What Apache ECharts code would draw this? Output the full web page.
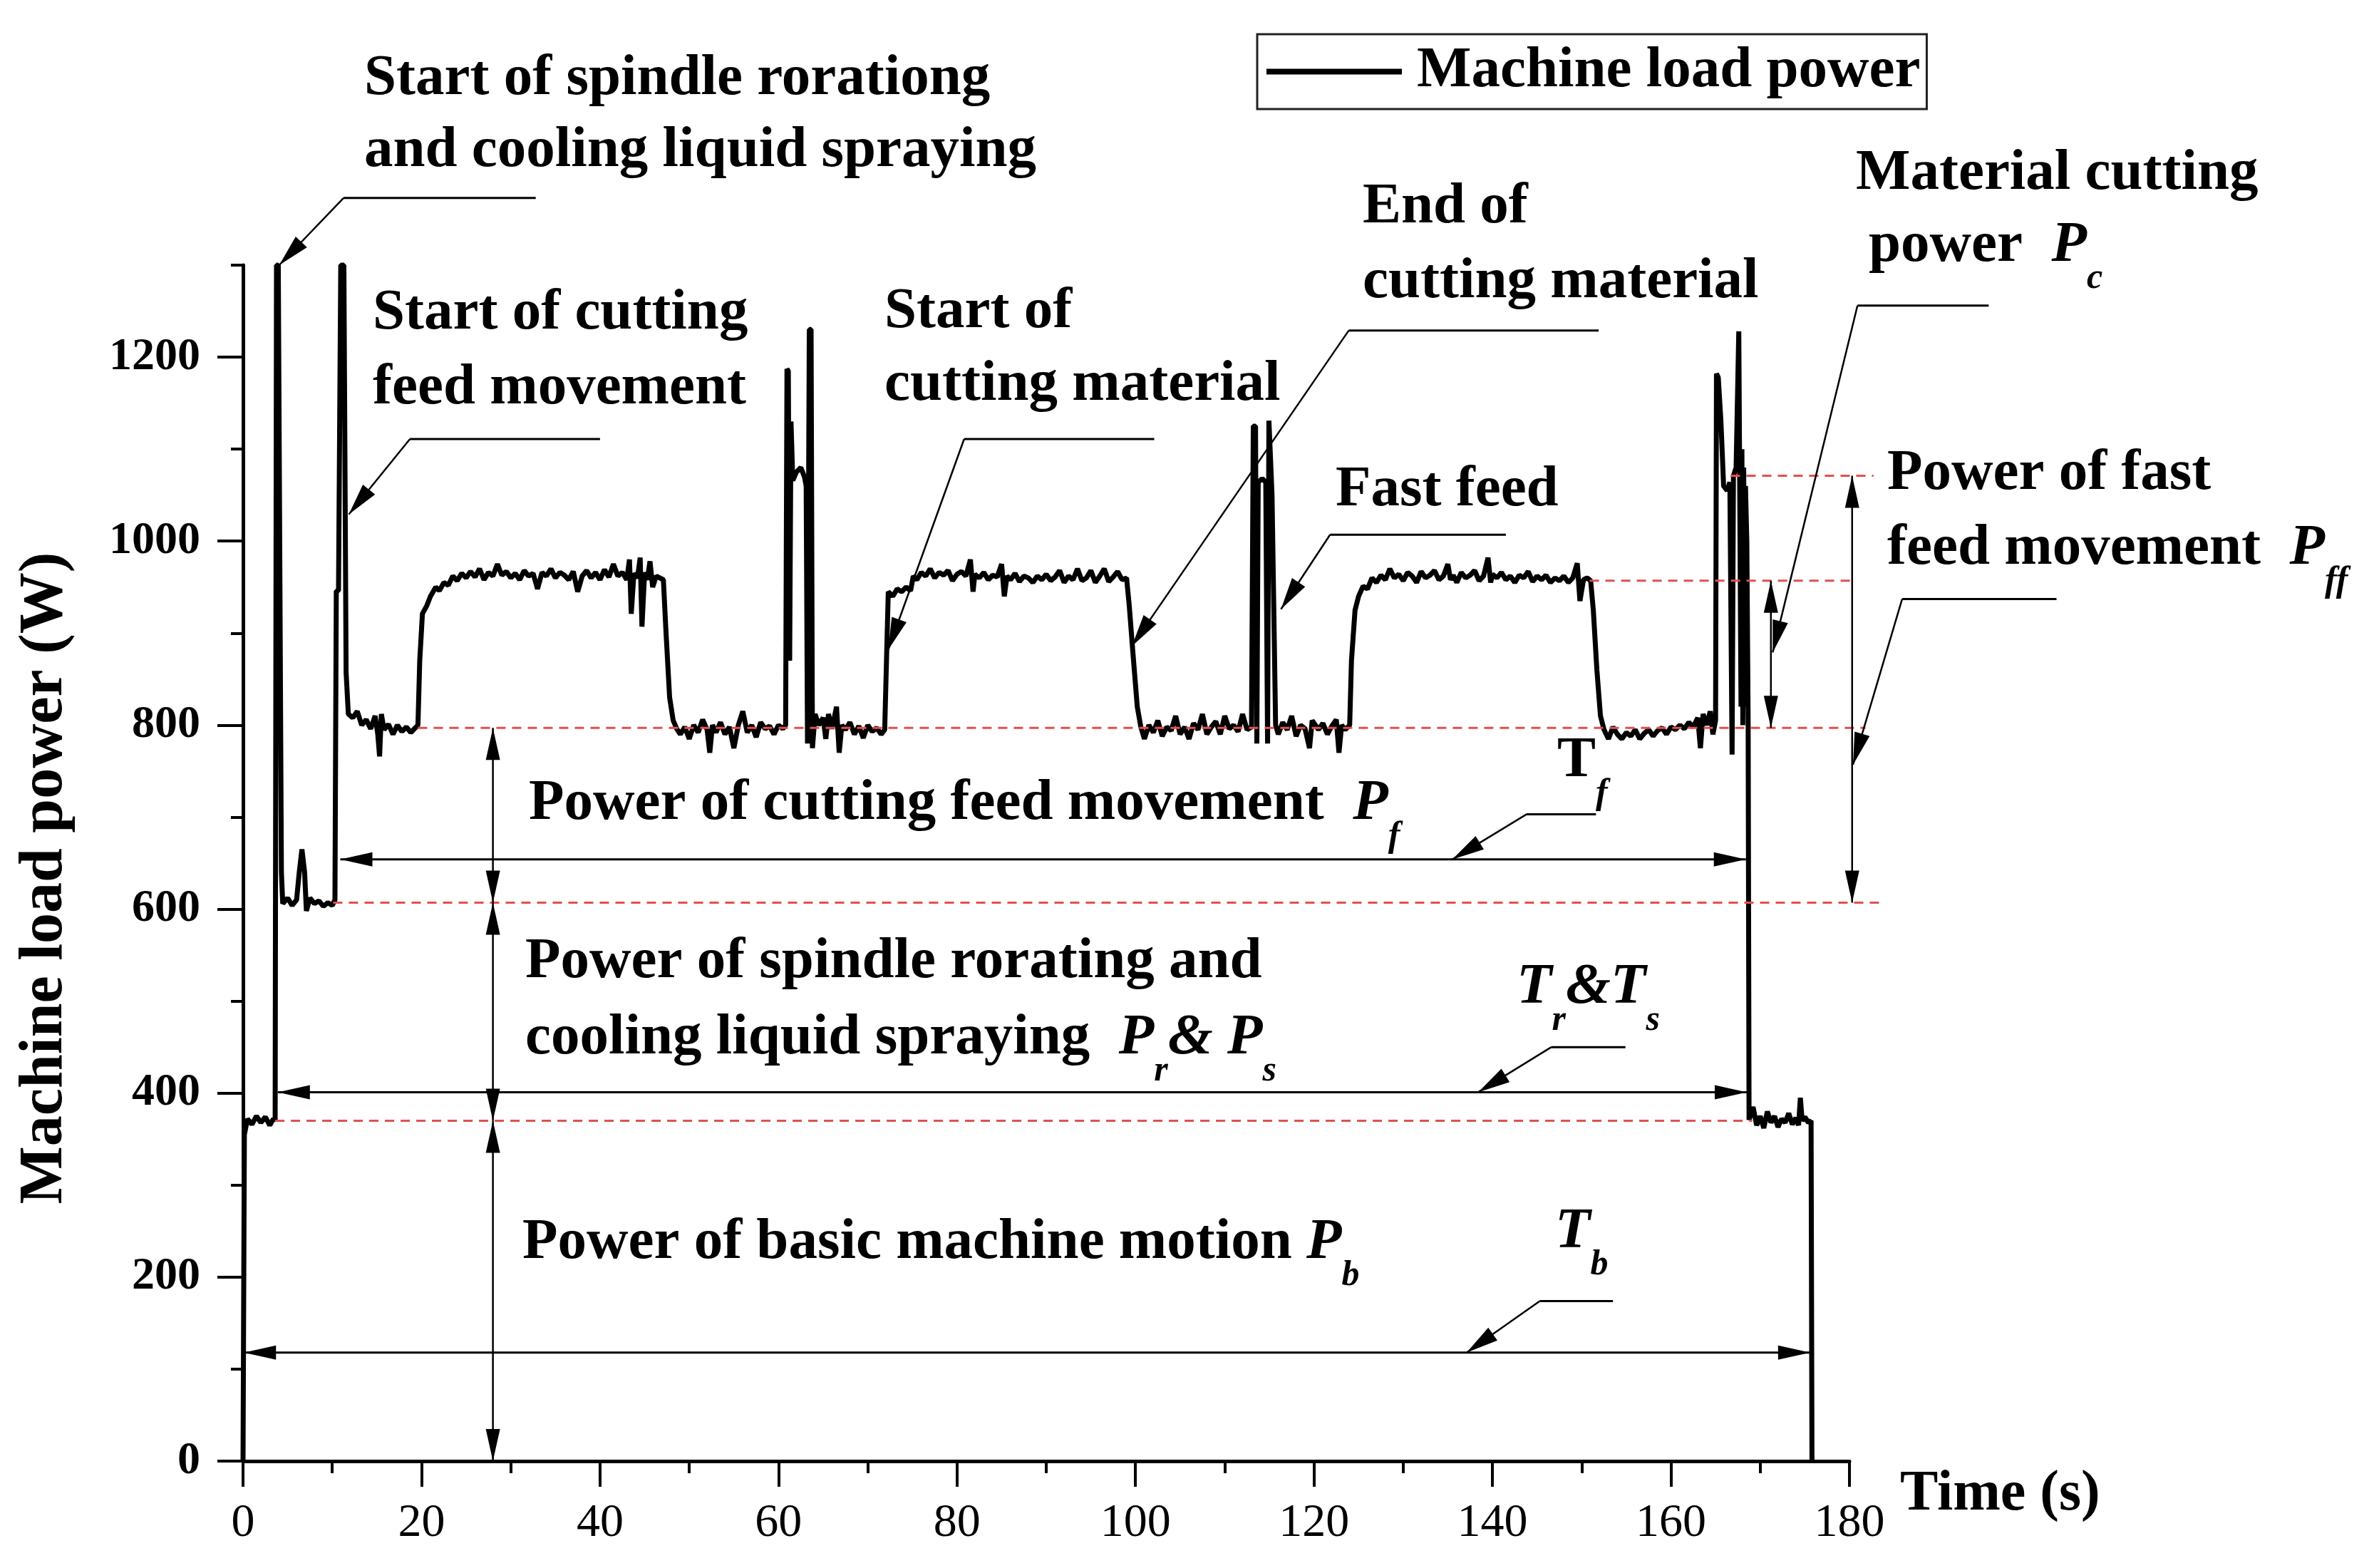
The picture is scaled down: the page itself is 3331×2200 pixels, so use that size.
<!DOCTYPE html>
<html>
<head>
<meta charset="utf-8">
<script src="https://cdn.jsdelivr.net/npm/echarts@6/dist/echarts.min.js"></script>
<style>html,body{margin:0;padding:0;background:#fff;}#c{width:3331px;height:2200px;}</style>
</head>
<body>
<div id="c"></div>
<script>
// ---------- DATA ----------
const seriesName = 'Machine load power';
const xTickValues = [0, 20, 40, 60, 80, 100, 120, 140, 160, 180];
const yTickValues = [0, 200, 400, 600, 800, 1000, 1200];
const yMinorTickValues = [100, 300, 500, 700, 900, 1100, 1300];

// [time (s), power (W)]
const idleStart = [[0,0],[0.15,355],[0.5,372],[1,366],[1.5,375],[2,368],[2.5,374],[3,365],[3.4,372],[3.6,370]];
const spindleStart = [[3.75,1300],[3.95,1300],[4.3,640],[4.45,606],[5,612],[5.5,604],[6,610],[6.3,640],[6.6,665],[6.9,640],[7.1,598],[7.5,612],[8,606],[8.5,609],[9,603],[9.5,607],[10,604],[10.3,610]];
const feedStart = [[10.45,946],[10.7,946],[10.95,1300],[11.3,1300],[11.55,857],[11.8,812],[12.3,808],[12.8,815],[13.3,800],[13.8,806],[14.3,796],[14.8,810],[15.1,790],[15.3,766],[15.5,812],[15.8,795],[16.3,801],[16.8,790],[17.3,800],[17.8,793],[18.3,798],[18.8,792],[19.3,797],[19.6,800]];
const cut1 = [[19.8,870],[20.1,921],[20.6,930],[21,940],[21.6,950],[22,946],[22.5,955],[23,952],[23.5,962],[24,957],[24.5,965],[25,960],[25.5,967],[26,961],[26.5,970],[27,958],[27.5,966],[28,962],[28.5,975],[29,963],[29.5,967],[30,960],[30.5,965],[31,958],[31.5,968],[32,962],[32.5,965],[33,948],[33.5,966],[34,962],[34.5,970],[35,960],[35.5,966],[36,963],[36.5,958],[37,967],[37.5,945],[38,962],[38.5,968],[39,960],[39.5,966],[40,958],[40.5,969],[41,961],[41.5,975],[42,962],[42.5,966],[43,958],[43.3,980],[43.5,921],[43.8,965],[44.2,960],[44.5,982],[44.7,907],[45,966],[45.3,958],[45.6,978],[45.9,950],[46.3,962],[46.7,960],[47.1,958]];
const feed1 = [[47.4,900],[47.8,830],[48.2,805],[48.6,796],[49,790],[49.5,798],[50,785],[50.5,800],[51,792],[51.5,806],[52,795],[52.3,770],[52.6,800],[53,792],[53.5,803],[54,790],[54.5,798],[55,775],[55.5,800],[56,815],[56.5,792],[57,800],[57.5,787],[58,803],[58.5,796],[59,799],[59.5,790],[60,800],[60.5,796],[60.8,800]];
const fast1 = [[60.95,1187],[61.1,1185],[61.25,870],[61.4,1130],[61.6,1066],[62,1075],[62.5,1080],[62.9,1070],[63.1,1060],[63.25,780],[63.45,1230],[63.65,1230],[63.8,775],[64.1,812],[64.5,800],[65,808],[65.3,785],[65.6,812],[66,796],[66.5,820],[66.8,770],[67.1,800],[67.5,795],[68,803],[68.5,790],[69,799],[69.5,786],[70,800],[70.5,793],[71,797],[71.5,790],[71.9,795]];
const cut2 = [[72.1,870],[72.3,945],[72.8,940],[73.3,948],[73.8,945],[74.3,950],[74.8,946],[75.1,962],[75.5,958],[76,966],[76.5,962],[77,970],[77.5,960],[78,966],[78.5,963],[79,968],[79.5,957],[80,964],[80.5,967],[81,962],[81.5,980],[81.8,945],[82,964],[82.5,960],[83,966],[83.5,958],[84,963],[84.5,961],[85,975],[85.3,940],[85.6,962],[86,958],[86.5,965],[87,956],[87.5,962],[88,960],[88.5,955],[89,962],[89.5,958],[90,964],[90.5,957],[91,961],[91.5,968],[92,955],[92.5,962],[93,958],[93.5,970],[94,957],[94.5,960],[95,968],[95.5,955],[96,962],[96.5,970],[97,956],[97.5,961],[98,967],[98.5,958],[99,960]];
const feed2 = [[99.3,930],[99.7,880],[100.2,820],[100.6,798],[101,785],[101.5,800],[102,792],[102.5,805],[103,788],[103.5,798],[104,794],[104.5,810],[105,790],[105.5,798],[106,785],[106.5,802],[107,795],[107.5,812],[108,790],[108.5,798],[109,804],[109.5,790],[110,810],[110.5,796],[111,800],[111.5,793],[112,812],[112.5,795],[113,798]];
const fast2 = [[113.2,1125],[113.45,1125],[113.6,780],[113.75,1064],[114.2,1068],[114.6,1064],[114.8,780],[114.95,1131],[115.1,1131],[115.3,1050],[115.5,925],[115.7,800],[116,790],[116.5,803],[117,795],[117.5,810],[118,788],[118.5,800],[119,796],[119.5,775],[119.8,805],[120.5,795],[121,802],[121.5,790],[122,799],[122.5,806],[122.8,770],[123.1,800],[123.5,795],[124,800]];
const cut3 = [[124.2,870],[124.6,925],[125,940],[125.5,951],[126,948],[126.5,960],[127,955],[127.5,963],[128,958],[128.5,970],[129,960],[129.5,964],[130,957],[130.5,966],[131,962],[131.5,955],[132,967],[132.5,960],[133,963],[133.5,968],[134,958],[134.5,962],[135,975],[135.3,958],[135.6,963],[136,955],[136.5,966],[137,960],[137.5,963],[138,968],[138.5,957],[139,962],[139.5,982],[139.8,955],[140,964],[140.5,960],[141,966],[141.5,958],[142,962],[142.5,955],[143,963],[143.5,960],[144,967],[144.5,956],[145,962],[145.5,958],[146,963],[146.5,955],[147,960],[147.5,957],[148,962],[148.5,955],[149,960],[149.5,976],[149.8,935],[150.2,958],[150.6,960],[151,957]];
const feed3 = [[151.3,925],[151.7,860],[152.1,810],[152.5,795],[153,785],[153.5,798],[154,790],[154.5,785],[155,792],[155.5,788],[156,795],[156.5,785],[157,791],[157.5,795],[158,788],[158.5,794],[159,797],[159.5,790],[160,798],[160.5,795],[161,800],[161.5,796],[162,803],[162.5,798],[163,808],[163.3,775],[163.6,812],[164,800],[164.4,815],[164.7,790],[165,805]];
const fast3 = [[165.1,1182],[165.3,1178],[165.6,1130],[165.9,1060],[166.3,1055],[166.6,1064],[166.85,768],[167,1071],[167.3,1080],[167.6,1228],[167.75,1228],[167.85,820],[167.95,1100],[168.05,800],[168.15,1080],[168.25,820],[168.35,1060],[168.5,1000],[168.65,800],[168.75,371]];
const idleEnd = [[169.2,385],[169.6,365],[170,375],[170.4,362],[170.8,380],[171.2,368],[171.6,375],[172,363],[172.4,372],[172.8,368],[173.2,378],[173.6,366],[174,373],[174.3,365],[174.5,395],[174.7,370],[175,374],[175.4,368],[175.7,370],[175.8,0]];

const powerData = [].concat(idleStart, spindleStart, feedStart, cut1, feed1, fast1, cut2, feed2, fast2, cut3, feed3, fast3, idleEnd);

// reference levels [t start, t end, W]
const refLevels = [[3.6,169.1,370],[10.1,183.5,607],[19.6,181.8,797],[150.9,180.7,957],[166.7,182.7,1071]];
// vertical double arrows [t, W low, W high]
const powerSpans = [[28,0,370],[28,370,607],[28,607,797],[171.2,797,957],[180.3,607,1071]];
// horizontal duration arrows [W, t start, t end]
const timeSpans = [[118,0.1,175.6],[401,3.9,168.5],[654,10.9,168.4]];
// leader lines [tip t, tip W, elbow t, elbow W, end t]
const leaders = [[4.05,1300,11.26,1373,32.8],[11.85,1029,18.7,1111,40.0],[72.3,882,80.8,1111,102.1],[99.6,886,123.9,1229,151.9],[116.3,926,121.8,1007,141.5],[135.5,654,143.8,703,151.6],[138.4,401,146.6,450,154.9],[137.1,118,145.3,174,153.5],[171.4,879,180.9,1256,195.6],[180.4,757,185.9,937,203.2]];

// ---------- LAYOUT / STYLE ----------
const FONT = "'Liberation Serif','Times New Roman',serif";
const LBL = 81;
const labelTexts = [
  {x:511, y:111, t:'Start of spindle rorationg'},
  {x:511, y:212, t:'and cooling liquid spraying'},
  {x:523, y:440, t:'Start of cutting'},
  {x:523, y:545, t:'feed movement'},
  {x:1241, y:438, t:'Start of'},
  {x:1241, y:540, t:'cutting material'},
  {x:1912, y:291, t:'End of'},
  {x:1912, y:396, t:'cutting material'},
  {x:1874, y:688, t:'Fast feed'},
  {x:2604, y:244, t:'Material cutting'},
  {x:2622, y:345, t:'power  {it|P}{sub|c}'},
  {x:2648, y:665, t:'Power of fast'},
  {x:2648, y:770, t:'feed movement  {it|P}{sub|ff}'},
  {x:742, y:1128, t:'Power of cutting feed movement  {it|P}{sub|f}'},
  {x:737, y:1350, t:'Power of spindle rorating and'},
  {x:737, y:1457, t:'cooling liquid spraying  {it|P}{sub|r}{it|& P}{sub|s}'},
  {x:733, y:1744, t:'Power of basic machine motion {it|P}{sub|b}'},
  {x:2185, y:1068, t:'T{sub|f}'},
  {x:2128, y:1386, t:'{it|T}{sub|r}{it|&T}{sub|s}'},
  {x:2182, y:1729, t:'{it|T}{sub|b}'}
];
const richStyles = {
  it: {fontStyle:'italic', fontWeight:'bold', fontSize:LBL, fontFamily:FONT, lineHeight:LBL, fill:'#000'},
  sub: {fontStyle:'italic', fontWeight:'bold', fontSize:50, fontFamily:FONT, lineHeight:LBL, padding:[92,0,0,0], fill:'#000'}
};

const chart = echarts.init(document.getElementById('c'));
const option = {
  animation: false,
  backgroundColor: '#fff',
  grid: {left:341, top:372, right:736, bottom:150, containLabel:false, outerBoundsMode:'none'},
  legend: {
    show:true, left:1764, top:48, icon:'rect', itemWidth:190, itemHeight:8,
    padding:[12,9,12,13], borderColor:'#222', borderWidth:3,
    textStyle:{fontSize:LBL, fontWeight:'bold', fontFamily:FONT, color:'#000', padding:[0,0,0,16], lineHeight:80},
    data:[seriesName]
  },
  xAxis: {
    type:'value', min:0, max:180, interval:20,
    axisLine:{show:true, onZero:false, lineStyle:{color:'#000', width:5}},
    axisTick:{show:true, inside:false, length:36, lineStyle:{color:'#000', width:4}},
    minorTick:{show:true, splitNumber:2, length:17, lineStyle:{color:'#000', width:4}},
    axisLabel:{color:'#000', fontSize:66, fontFamily:FONT, margin:55, customValues:xTickValues, formatter:v => String(v)},
    splitLine:{show:false}, minorSplitLine:{show:false}
  },
  yAxis: [{
    type:'value', min:0, max:1300, interval:100, position:'left',
    axisLine:{show:true, onZero:false, lineStyle:{color:'#000', width:5}},
    axisTick:{show:true, inside:false, length:36, lineStyle:{color:'#000', width:4}, customValues:yTickValues},
    axisLabel:{color:'#000', fontSize:64, fontWeight:'bold', fontFamily:FONT, margin:60, customValues:yTickValues, formatter:v => String(v)},
    splitLine:{show:false}
  },{
    type:'value', min:0, max:1300, interval:100, position:'left', offset:0,
    axisLine:{show:false},
    axisTick:{show:true, inside:false, length:17, lineStyle:{color:'#000', width:4}, customValues:yMinorTickValues},
    axisLabel:{show:false},
    splitLine:{show:false}
  }],
  series: [{
    type:'line', name:seriesName, data:powerData, showSymbol:false, symbol:'none',
    clip:false, lineStyle:{color:'#000', width:7}, itemStyle:{color:'#000'}, z:5
  }]
};
chart.setOption(option);

// ---------- ANNOTATIONS through the chart's own scales ----------
const px = (t, w) => chart.convertToPixel({seriesIndex:0}, [t, w]);
const g = [];
function seg(a, b, style, z) {
  g.push({type:'line', silent:true, z: z || 100,
    shape:{x1:a[0], y1:a[1], x2:b[0], y2:b[1]},
    style:Object.assign({stroke:'#000', lineWidth:2.5}, style || {})});
}
function head(tip, from, len, half) {
  len = len || 45; half = half || 10;
  const dx = tip[0]-from[0], dy = tip[1]-from[1];
  const L = Math.sqrt(dx*dx+dy*dy) || 1;
  const ux = dx/L, uy = dy/L;
  const bx = tip[0]-ux*len, by = tip[1]-uy*len;
  g.push({type:'polygon', silent:true, z:101,
    shape:{points:[[tip[0],tip[1]],[bx-uy*half, by+ux*half],[bx+uy*half, by-ux*half]]},
    style:{fill:'#000'}});
}
refLevels.forEach(r => {
  seg(px(r[0], r[2]), px(r[1], r[2]), {stroke:'#e05050', lineWidth:3, lineDash:[13,9]}, 90);
});
powerSpans.forEach(s => {
  const a = px(s[0], s[1]), b = px(s[0], s[2]);
  seg(a, b, {lineWidth:2.5});
  head(a, b, 45, 10); head(b, a, 45, 10);
});
timeSpans.forEach(s => {
  const a = px(s[1], s[0]), b = px(s[2], s[0]);
  seg(a, b, {lineWidth:3});
  head(a, b, 45, 10); head(b, a, 45, 10);
});
leaders.forEach(l => {
  const tip = px(l[0], l[1]), elbow = px(l[2], l[3]), end = px(l[4], l[3]);
  seg(elbow, end, {lineWidth:3});
  seg(tip, elbow, {lineWidth:2.5});
  head(tip, elbow, 45, 11);
});
labelTexts.forEach(L => {
  g.push({type:'text', silent:true, z:120, x:L.x, y:L.y,
    style:{text:L.t, fill:'#000', fontSize:LBL, fontWeight:'bold', fontFamily:FONT,
      lineHeight:LBL, align:'left', verticalAlign:'middle', rich:richStyles}});
});
g.push({type:'text', silent:true, z:120, x:64, y:1232, rotation:Math.PI/2,
  style:{text:'Machine load power (W)', fill:'#000', fontSize:86, fontWeight:'bold', fontFamily:FONT,
    align:'center', verticalAlign:'middle'}});
g.push({type:'text', silent:true, z:120, x:2666, y:2097,
  style:{text:'Time (s)', fill:'#000', fontSize:80, fontWeight:'bold', fontFamily:FONT,
    align:'left', verticalAlign:'middle'}});
chart.setOption({graphic: g});
</script>
</body>
</html>
